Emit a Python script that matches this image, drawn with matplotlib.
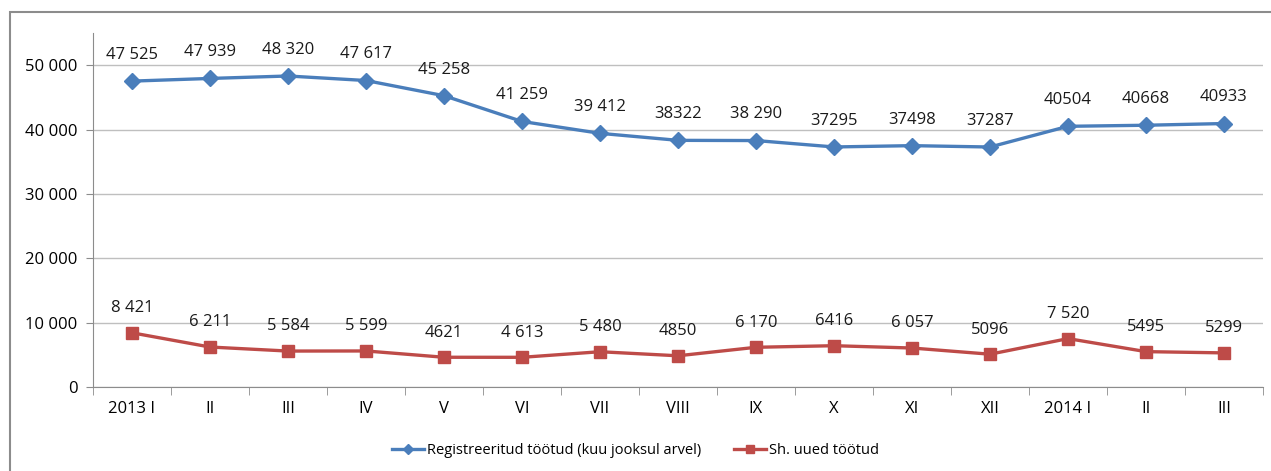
import matplotlib.pyplot as plt
from matplotlib.patches import Rectangle
from matplotlib.ticker import FuncFormatter, FixedLocator
import numpy as np

months = ["2013 I", "II", "III", "IV", "V", "VI", "VII", "VIII", "IX", "X",
          "XI", "XII", "2014 I", "II", "III"]
registered = [47525, 47939, 48320, 47617, 45258, 41259, 39412, 38322, 38290,
              37295, 37498, 37287, 40504, 40668, 40933]
registered_labels = ["47 525", "47 939", "48 320", "47 617", "45 258", "41 259",
                     "39 412", "38322", "38 290", "37295", "37498", "37287",
                     "40504", "40668", "40933"]
new_unemployed = [8421, 6211, 5584, 5599, 4621, 4613, 5480, 4850, 6170, 6416,
                  6057, 5096, 7520, 5495, 5299]
new_labels = ["8 421", "6 211", "5 584", "5 599", "4621", "4 613", "5 480",
              "4850", "6 170", "6416", "6 057", "5096", "7 520", "5495", "5299"]

blue = "#4A7EBB"
red = "#BE4B48"
grid_gray = "#BFBFBF"

plt.rcParams['font.family'] = ['Open Sans', 'DejaVu Sans']

fig = plt.figure(figsize=(12.71, 4.71), dpi=100)
fig.patches.append(Rectangle((10 / 1271, -0.1), 1.2, 1.1 - 12 / 471,
                             transform=fig.transFigure, fill=False,
                             edgecolor="#8C8C8C", linewidth=1.5))

ax = fig.add_axes([93 / 1271, 1 - 387 / 471, 1170 / 1271, (387 - 33) / 471])
x = np.arange(len(months))

ax.plot(x, registered, color=blue, linewidth=2.4, marker="D", markersize=8,
        label="Registreeritud töötud (kuu jooksul arvel)")
ax.plot(x, new_unemployed, color=red, linewidth=2.4, marker="s", markersize=9,
        label="Sh. uued töötud")

for xi, v, lab in zip(x, registered, registered_labels):
    ax.annotate(lab, (xi, v), xytext=(0, 13), textcoords="offset points",
                ha="center", va="bottom", fontsize=12, color="#1a1a1a")
for xi, v, lab in zip(x, new_unemployed, new_labels):
    ax.annotate(lab, (xi, v), xytext=(0, 12), textcoords="offset points",
                ha="center", va="bottom", fontsize=12, color="#1a1a1a")

ax.set_xlim(-0.5, len(months) - 0.5)
ax.set_ylim(0, 55000)
ax.set_yticks(np.arange(0, 50001, 10000))
ax.yaxis.set_major_formatter(FuncFormatter(lambda v, p: f"{int(v):,}".replace(",", " ")))
ax.yaxis.grid(True, color=grid_gray, linewidth=1)
ax.set_axisbelow(True)

ax.set_xticks(x)
ax.set_xticklabels(months)
ax.tick_params(axis="x", which="major", length=0, pad=10, labelsize=12)
ax.xaxis.set_minor_locator(FixedLocator(np.arange(-0.5, len(months), 1)))
ax.tick_params(axis="x", which="minor", length=6, color="#8C8C8C")
ax.tick_params(axis="y", length=5, color="#8C8C8C", labelsize=12, pad=6)

for side in ["top", "right"]:
    ax.spines[side].set_visible(False)
for side in ["left", "bottom"]:
    ax.spines[side].set_color("#8C8C8C")

fig.legend(loc="center", bbox_to_anchor=(0.5, 1 - 451 / 471), ncol=2,
           frameon=False, fontsize=10.5, handlelength=2.2, columnspacing=2.3,
           handletextpad=0.15, markerscale=0.7)

fig.savefig("out.png", dpi=100)
